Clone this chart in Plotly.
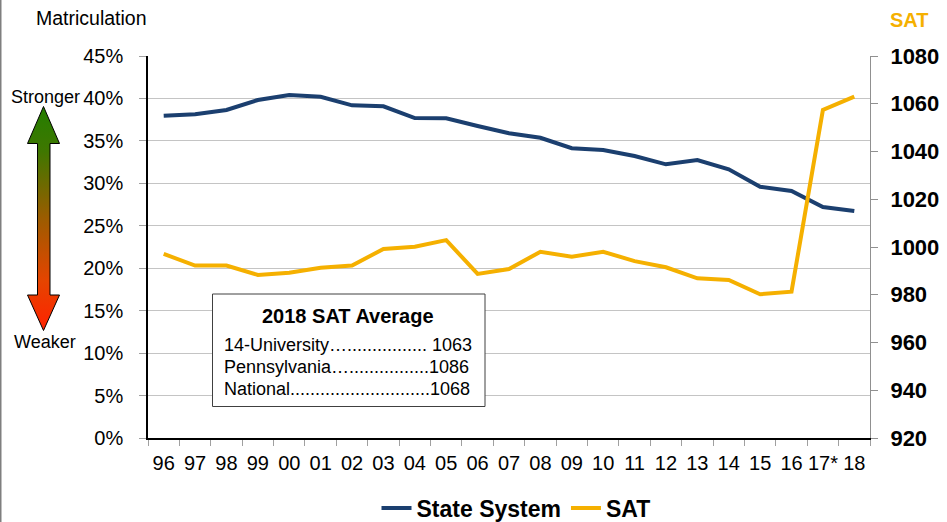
import base64
import plotly.graph_objects as go

# ---------------- data ----------------
years = ["96", "97", "98", "99", "00", "01", "02", "03", "04", "05", "06", "07",
         "08", "09", "10", "11", "12", "13", "14", "15", "16", "17*", "18"]
state_system = [37.97, 38.13, 38.64, 39.82, 40.41, 40.2, 39.19, 39.07, 37.69, 37.66,
                36.75, 35.9, 35.37, 34.13, 33.93, 33.22, 32.24, 32.75, 31.65, 29.6,
                29.1, 27.2, 26.74]
sat = [997.1, 992.2, 992.2, 988.3, 989.2, 991.3, 992.2, 999.2, 1000.1, 1002.9,
       988.7, 990.8, 998.0, 995.9, 998.0, 994.1, 991.5, 986.9, 986.2, 980.2,
       981.3, 1057.4, 1063.0]
left_ticks = list(range(0, 46, 5))
left_tick_text = [f"{v}%" for v in left_ticks]
right_ticks = list(range(920, 1081, 20))
box_title = "2018 SAT Average"
box_lines = ["14-University…................ 1063",
             "Pennsylvania…................1086",
             "National............................1068"]

# ---------------- geometry helpers ----------------
W, H = 947, 522
L, R, T, B = 148, 870, 56, 438          # plot-area pixel bounds


def px(x):
    return (x - L) / (R - L)


def py(y):
    return (B - y) / (B - T)


BLUE = "#1B3F6F"
ORANGE = "#F5B000"
FONT = "Liberation Sans, Arial, sans-serif"

fig = go.Figure()
fig.add_trace(go.Scatter(x=years, y=state_system, name="State System", mode="lines",
                         line=dict(color=BLUE, width=4), yaxis="y"))
fig.add_trace(go.Scatter(x=years, y=sat, name="SAT", mode="lines",
                         line=dict(color=ORANGE, width=4), yaxis="y2"))

# gradient arrow as an inline SVG image
svg = ('<svg xmlns="http://www.w3.org/2000/svg" width="36" height="227" viewBox="0 0 36 227">'
       '<defs><linearGradient id="g" x1="0" y1="0" x2="0" y2="1">'
       '<stop offset="0" stop-color="#237e00"/>'
       '<stop offset="0.2" stop-color="#3f7700"/>'
       '<stop offset="0.5" stop-color="#9c5c00"/>'
       '<stop offset="0.78" stop-color="#e64400"/>'
       '<stop offset="1" stop-color="#ff2200"/>'
       '</linearGradient></defs>'
       '<polygon points="17.5,1.5 33.5,38.5 24,38.5 24,190 33.5,190 17.5,225.5 1.5,190 '
       '11.5,190 11.5,38.5 1.5,38.5" fill="url(#g)" stroke="#000" stroke-width="1"/></svg>')
src = "data:image/svg+xml;base64," + base64.b64encode(svg.encode()).decode()

fig.update_layout(
    width=W, height=H,
    margin=dict(l=L, r=W - R, t=T, b=H - B, pad=0, autoexpand=False),
    paper_bgcolor="white", plot_bgcolor="white",
    font=dict(family=FONT, color="black", size=20),
    showlegend=True,
    legend=dict(orientation="h", x=px(516), xanchor="center", y=py(508), yanchor="middle",
                font=dict(size=23, family=FONT, weight="bold"), itemwidth=30,
                traceorder="normal", bgcolor="rgba(0,0,0,0)"),
    xaxis=dict(type="category", categoryorder="array", categoryarray=years,
               range=[-0.5, len(years) - 0.5],
               showgrid=False, showline=True, linecolor="black", linewidth=1.5,
               ticks="outside", tickson="boundaries", ticklen=6, tickcolor="#A0A0A0",
               tickfont=dict(size=20), tickangle=0, ticklabelstandoff=6, zeroline=False,
               automargin=False),
    yaxis=dict(range=[0, 45], tickvals=left_ticks, ticktext=left_tick_text,
               showgrid=True, gridcolor="#C4C4C4", gridwidth=1.3,
               showline=True, linecolor="black", linewidth=1.5,
               ticks="outside", ticklen=7, tickcolor="#A0A0A0",
               tickfont=dict(size=20), ticklabelstandoff=12, zeroline=False,
               automargin=False),
    yaxis2=dict(range=[920, 1080], tickvals=right_ticks, overlaying="y", side="right",
                showgrid=False, showline=True, linecolor="#909090", linewidth=1,
                ticks="outside", ticklen=7, tickcolor="#909090",
                tickfont=dict(size=22, weight="bold"), ticklabelstandoff=8, zeroline=False,
                automargin=False),
    images=[dict(source=src, xref="paper", yref="paper", x=px(26), y=py(105),
                 sizex=36 / (R - L), sizey=227 / (B - T), xanchor="left", yanchor="top",
                 sizing="stretch", layer="above")],
)

shapes = [
    # frame line on the left edge
    dict(type="line", xref="paper", yref="paper", x0=px(0.75), x1=px(0.75), y0=py(0), y1=py(H),
         line=dict(color="#7F7F7F", width=1.5)),
    # SAT legend box
    dict(type="rect", xref="paper", yref="paper", x0=px(212.5), x1=px(485), y0=py(294), y1=py(406.5),
         line=dict(color="#404040", width=1), fillcolor="white", layer="above"),
]
fig.update_layout(shapes=shapes)

ann = [
    dict(text="Matriculation", x=px(91), y=py(18), font=dict(size=19.5), xanchor="center"),
    dict(text="Stronger", x=px(45.5), y=py(97), font=dict(size=18), xanchor="center"),
    dict(text="Weaker", x=px(45), y=py(342), font=dict(size=18), xanchor="center"),
    dict(text="<b>SAT</b>", x=px(909), y=py(20), font=dict(size=20, color=ORANGE), xanchor="center"),
    dict(text="<b>" + box_title + "</b>", x=px(347.5), y=py(316), font=dict(size=20), xanchor="center"),
]
for i, line in enumerate(box_lines):
    ann.append(dict(text=line, x=px(222), y=py(345 + 22 * i), font=dict(size=18), xanchor="left"))
for a in ann:
    a.update(xref="paper", yref="paper", yanchor="middle", showarrow=False)
fig.update_layout(annotations=ann)

fig.write_html("out.html", config={"displayModeBar": False},
               post_script="document.body.style.margin='0';document.body.style.overflow='hidden';")
